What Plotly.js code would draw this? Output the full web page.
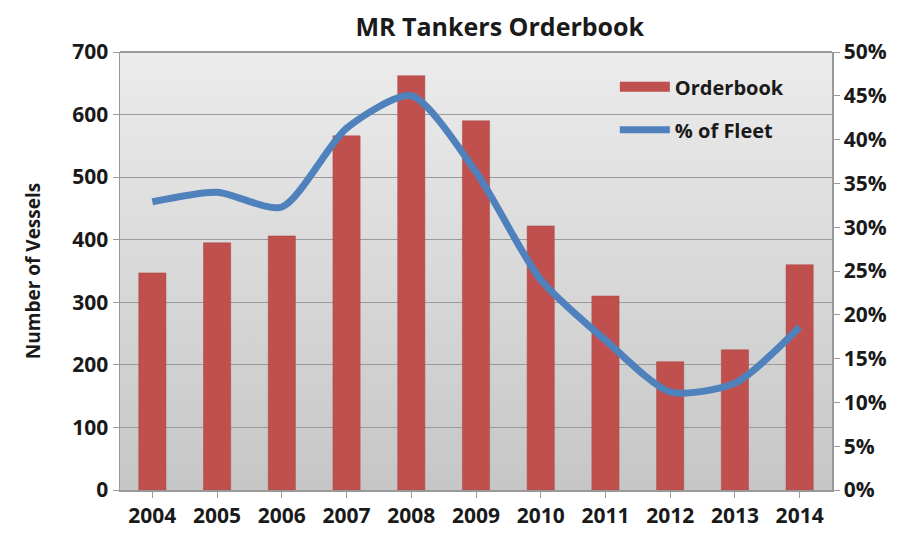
<!DOCTYPE html>
<html><head><meta charset="utf-8">
<script src="https://cdn.plot.ly/plotly-3.0.1.min.js"></script>
<style>html,body{margin:0;padding:0;background:#fff;}#chart{width:912px;height:540px;}</style>
</head><body><div id="chart"></div>
<script>
var years = ['2004','2005','2006','2007','2008','2009','2010','2011','2012','2013','2014'];
var orderbook = [347, 395, 406, 566, 662, 590, 422, 310, 205, 224, 360];
var pctFleet = [32.9, 34.0, 32.3, 41.3, 45.0, 36.3, 24.0, 17.1, 11.2, 12.2, 18.6];
var leftTicks = [0,100,200,300,400,500,600,700];
var rightTicks = [0,5,10,15,20,25,30,35,40,45,50];

var grad = 'data:image/svg+xml;utf8,' + encodeURIComponent(
 '<svg xmlns="http://www.w3.org/2000/svg" width="10" height="100" preserveAspectRatio="none"><defs><linearGradient id="g" x1="0" y1="0" x2="0" y2="1"><stop offset="0" stop-color="#ececec"/><stop offset="1" stop-color="#c6c6c6"/></linearGradient></defs><rect width="10" height="100" fill="url(#g)"/></svg>');

var font = '"Open Sans", "Noto Sans", sans-serif';
var traces = [
 {type:'bar', x:years, y:orderbook, name:'Orderbook', showlegend:false, marker:{color:'#c0504d', line:{color:'#a94442', width:0.5}}, width:0.42, yaxis:'y'},
 {type:'scatter', mode:'lines', x:[null], y:[null], name:'Orderbook', legendgroup:'a', line:{color:'#c0504d', width:12}, yaxis:'y'},
 {type:'scatter', mode:'lines', x:years, y:pctFleet, name:'% of Fleet', legendgroup:'b', line:{color:'#4f81bd', width:7, shape:'spline', smoothing:0.7}, yaxis:'y2'}
];
var tf = {family:font, size:21, color:'#1a1a1a', weight:'bold'};
var layout = {
 width:912, height:540,
 margin:{l:120, r:80, t:52, b:50},
 paper_bgcolor:'#ffffff', plot_bgcolor:'rgba(0,0,0,0)',
 title:{text:'<b>MR Tankers Orderbook</b>', font:{family:font, size:25, color:'#1a1a1a'}, x:0.548, xanchor:'center', y:0.965, yanchor:'top'},
 images:[{source:grad, xref:'paper', yref:'paper', x:0, y:1, sizex:1, sizey:1, sizing:'stretch', layer:'below', xanchor:'left', yanchor:'top'}],
 xaxis:{type:'category', tickfont:tf, ticks:'outside', ticklen:6, tickcolor:'#999', showline:true, linecolor:'#999', linewidth:1.5, showgrid:false},
 yaxis:{range:[0,700], tickvals:leftTicks, ticks:'outside', ticklen:6, tickcolor:'#999', showline:true, linecolor:'#999', linewidth:1.5, gridcolor:'#9a9a9a', gridwidth:1, zeroline:false,
   tickfont:tf,
   title:{text:'<b>Number of Vessels</b>', font:{family:font, size:19, color:'#1a1a1a'}, standoff:26}},
 yaxis2:{overlaying:'y', side:'right', range:[0,50], tickvals:rightTicks, ticktext:rightTicks.map(function(v){return v+'%';}), ticks:'outside', ticklen:6, tickcolor:'#999', showline:true, linecolor:'#999', linewidth:1.5, showgrid:false, zeroline:false,
   tickfont:tf},
 legend:{x:0.695, y:0.965, xanchor:'left', yanchor:'top', bgcolor:'rgba(0,0,0,0)', font:{family:font, size:20, color:'#1a1a1a', weight:'bold'}, tracegroupgap:14, itemwidth:50},
 showlegend:true,
 shapes:[{type:'line', xref:'paper', yref:'paper', x0:0, x1:1, y0:1, y1:1, line:{color:'#999', width:2}}]
};
Plotly.newPlot('chart', traces, layout, {displayModeBar:false, staticPlot:true});
</script></body></html>
